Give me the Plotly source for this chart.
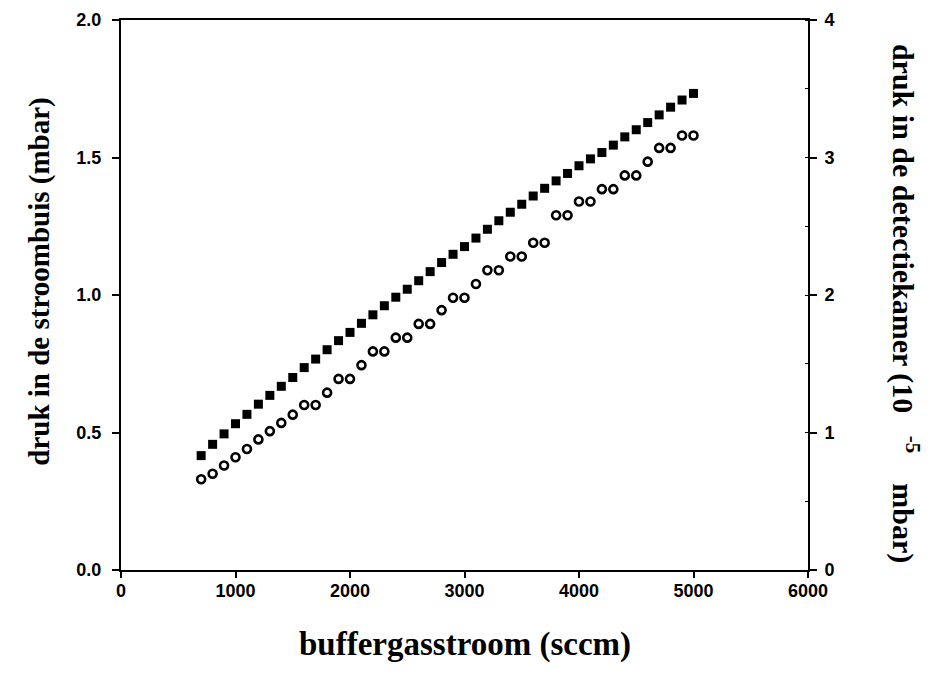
import plotly.graph_objects as go

# buffer gas flow (sccm)
flow = [700, 800, 900, 1000, 1100, 1200, 1300, 1400, 1500, 1600, 1700, 1800, 1900, 2000,
        2100, 2200, 2300, 2400, 2500, 2600, 2700, 2800, 2900, 3000, 3100, 3200, 3300, 3400,
        3500, 3600, 3700, 3800, 3900, 4000, 4100, 4200, 4300, 4400, 4500, 4600, 4700, 4800,
        4900, 5000]

# pressure in the flow tube (mbar) - filled squares, left axis
p_flowtube = [0.416, 0.457, 0.495, 0.532, 0.566, 0.603, 0.635, 0.668, 0.700, 0.736, 0.767,
              0.801, 0.834, 0.864, 0.897, 0.928, 0.961, 0.992, 1.021, 1.052, 1.085, 1.118,
              1.148, 1.176, 1.207, 1.239, 1.270, 1.301, 1.330, 1.360, 1.388, 1.415, 1.442,
              1.470, 1.495, 1.518, 1.545, 1.575, 1.601, 1.627, 1.655, 1.683, 1.709, 1.733]

# pressure in the detection chamber (1e-5 mbar) - open circles, right axis
p_detector = [0.66, 0.70, 0.76, 0.82, 0.88, 0.95, 1.01, 1.07, 1.13, 1.20, 1.20, 1.29, 1.39,
              1.39, 1.49, 1.59, 1.59, 1.69, 1.69, 1.79, 1.79, 1.89, 1.98, 1.98, 2.08, 2.18,
              2.18, 2.28, 2.28, 2.38, 2.38, 2.58, 2.58, 2.68, 2.68, 2.77, 2.77, 2.87, 2.87,
              2.97, 3.07, 3.07, 3.16, 3.16]

x_ticks = [0, 1000, 2000, 3000, 4000, 5000, 6000]
y_ticks = [0.0, 0.5, 1.0, 1.5, 2.0]
y_tick_text = ["0.0", "0.5", "1.0", "1.5", "2.0"]
y2_ticks = [0, 1, 2, 3, 4]

tickfont = dict(family="Liberation Sans, Arial, sans-serif", size=18, color="black", weight="bold")
titlefont = dict(family="Liberation Serif, Times New Roman, serif", size=29, color="black", weight="bold")
rtitlefont = dict(family="Liberation Serif, Times New Roman, serif", size=30, color="black", weight="bold")
xtitlefont = dict(family="Liberation Serif, Times New Roman, serif", size=33, color="black", weight="bold")

fig = go.Figure()
fig.add_trace(go.Scatter(
    x=flow, y=p_flowtube, mode="markers",
    marker=dict(symbol="square", size=9, color="black", line=dict(width=0)),
    showlegend=False, yaxis="y"))
fig.add_trace(go.Scatter(
    x=flow, y=p_detector, mode="markers",
    marker=dict(symbol="circle-open", size=8, color="black", line=dict(width=2.6, color="black")),
    showlegend=False, yaxis="y2"))

NB = "\u00a0"
fig.update_layout(
    template="simple_white",
    width=923, height=667,
    margin=dict(l=113, r=123, t=12, b=105, autoexpand=False),
    paper_bgcolor="white", plot_bgcolor="white",
    xaxis=dict(range=[0, 6000], tickvals=x_ticks, ticks="outside", ticklen=6, tickwidth=1.5,
               tickcolor="black", showline=True, linecolor="black", linewidth=2, mirror=True,
               showgrid=False, zeroline=False, tickfont=tickfont, ticklabelstandoff=-3,
               automargin=False),
    yaxis=dict(range=[0, 2.0], tickvals=y_ticks, ticktext=y_tick_text, ticks="outside", ticklen=7,
               tickwidth=1.5, tickcolor="black", showline=True, linecolor="black", linewidth=2,
               showgrid=False, zeroline=False, tickfont=tickfont, ticklabelstandoff=7,
               automargin=False),
    yaxis2=dict(range=[0, 4], tickvals=y2_ticks, overlaying="y", side="right", ticks="outside",
                ticklen=7, tickwidth=1.5, tickcolor="black", showline=True, linecolor="black",
                linewidth=2, showgrid=False, zeroline=False, tickfont=tickfont, ticklabelstandoff=4,
                automargin=False,
                minor=dict(dtick=0.5, ticks="inside", ticklen=3, tickcolor="black", tickwidth=1)),
    annotations=[
        dict(text="buffergasstroom (sccm)", xref="paper", yref="paper", x=0.5, y=-0.136,
             xanchor="center", yanchor="middle", showarrow=False, font=xtitlefont),
        dict(text="druk in de stroombuis (mbar)", xref="paper", yref="paper", x=-0.118, y=0.524,
             xanchor="center", yanchor="middle", textangle=-90, showarrow=False, font=titlefont),
        dict(text="druk in de detectiekamer (10" + NB * 3 + "<sup>-5</sup>" + NB * 3 + " mbar)",
             xref="paper", yref="paper",
             x=1.141, y=0.484, xanchor="center", yanchor="middle", textangle=90, showarrow=False,
             font=rtitlefont),
    ],
)

fig.write_html("out.html")
